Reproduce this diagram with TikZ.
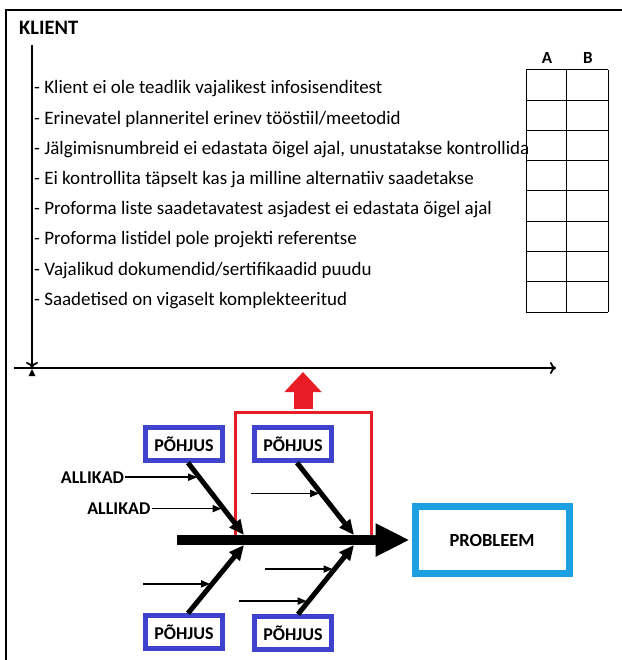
\documentclass[tikz,border=0pt]{standalone}
\usepackage{fontspec}
\setmainfont{Carlito}
\usepackage{tikz}
\usetikzlibrary{arrows.meta, positioning}
\definecolor{fbCause}{RGB}{62,66,204}
\definecolor{fbProblem}{RGB}{28,160,226}
\definecolor{fbFocus}{RGB}{232,28,36}

\begin{document}
\begin{tikzpicture}[x=1pt, y=-1pt,
    pohjus/.style={draw=fbCause, line width=4.5pt, minimum width=77pt, minimum height=33pt,
      font=\bfseries\fontsize{18}{19}\selectfont, inner sep=0pt},
    probbox/.style={draw=fbProblem, line width=7pt, minimum width=154pt, minimum height=67pt,
      font=\bfseries\fontsize{18.5}{20}\selectfont},
    bone/.style={line width=5pt, -{Triangle[length=15pt,width=13pt]}},
    twig/.style={line width=1.6pt, -{Triangle[length=9pt,width=7pt]}},
    axis/.style={line width=1.8pt, -{To[length=6pt,width=12pt]}},
    srclabel/.style={font=\bfseries\fontsize{18}{19}\selectfont, anchor=east, inner sep=1pt},
    listitem/.style={font=\fontsize{19}{21}\selectfont, anchor=west, inner sep=0pt}
  ]
    \useasboundingbox (0,0) rectangle (621,660);
    \draw[line width=1.4pt] (6,670) |- (630,10);
    \node[font=\bfseries\fontsize{20.5}{22}\selectfont, anchor=west, inner sep=0pt] (klient) at (19,28) {KLIENT};

    % axes
    \coordinate (ytop) at (32,45);
    \coordinate (orig) at (32,368);
    \coordinate (xstart) at (14,368);
    \coordinate (xend) at (556,368);
    \draw[axis] (ytop) -- (orig);
    \draw[axis] (xstart) -- (xend);
    \fill (28.5,376) -- (32,369) -- (35.5,376) -- cycle;

    % list and A/B table
    \foreach \t [count=\i from 0] in {Klient ei ole teadlik vajalikest infosisenditest,
        Erinevatel planneritel erinev tööstiil/meetodid,
        {Jälgimisnumbreid ei edastata õigel ajal, unustatakse kontrollida},
        Ei kontrollita täpselt kas ja milline alternatiiv saadetakse,
        Proforma liste saadetavatest asjadest ei edastata õigel ajal,
        Proforma listidel pole projekti referentse,
        Vajalikud dokumendid/sertifikaadid puudu,
        Saadetised on vigaselt komplekteeritud}
      \node[listitem] (item\i) at (34,{89+30.2*\i}) {- \t};
    \foreach \r in {0,...,8}
      \draw[line width=1pt] (526,{70+30.25*\r}) -- (608,{70+30.25*\r});
    \foreach \c in {526,566,608}
      \draw[line width=1pt] (\c,70) -- (\c,312);
    \node[font=\bfseries\fontsize{17}{18}\selectfont] (colA) at (547,58) {A};
    \node[font=\bfseries\fontsize{17}{18}\selectfont] (colB) at (588,58) {B};

    % focus frame
    \node[draw=fbFocus, line width=3pt, minimum width=136pt, minimum height=130pt] (focus) at (303,477) {};
    \coordinate (redtip) at (303,372);
    \draw[draw=fbFocus, line width=19pt, -{Triangle[length=20pt,width=36pt]}]
      ([yshift=2pt]focus.north) -- (redtip);

    % fishbone
    \node[pohjus] (c1) at (184,444) {PÕHJUS};
    \node[pohjus] (c2) at (293,444) {PÕHJUS};
    \node[pohjus] (c3) at (184,632) {PÕHJUS};
    \node[pohjus] (c4) at (293,633) {PÕHJUS};
    \node[probbox] (prob) at (492,540) {PROBLEEM};
    \coordinate (tail) at (177,540);
    \coordinate (j1) at (244,540);
    \coordinate (j2) at (354,540);
    \draw[line width=10pt, -{Triangle[length=34pt,width=31pt]}] (tail) -- ([xshift=-2pt]prob.west);

    \draw[bone] ([xshift=4pt]c1.south) -- coordinate[pos=0.2] (k1) coordinate[pos=0.635] (k2) ([yshift=5pt]j1);
    \draw[bone] ([xshift=4pt]c2.south) -- coordinate[pos=0.425] (k3) ([yshift=5pt]j2);
    \draw[bone] ([xshift=4pt]c3.north) -- coordinate[pos=0.43] (k4) ([yshift=-5pt]j1);
    \draw[bone] ([xshift=5pt]c4.north) -- coordinate[pos=0.19] (k5) coordinate[pos=0.653] (k6) ([yshift=-5pt]j2);

    \node[srclabel] (src1) at ([xshift=-74pt]k1) {ALLIKAD};
    \node[srclabel] (src2) at ([xshift=-72pt]k2) {ALLIKAD};
    \coordinate (w3) at ([xshift=-70pt]k3);
    \coordinate (w4) at ([xshift=-69pt]k4);
    \coordinate (w5) at ([xshift=-70pt]k5);
    \coordinate (w6) at ([xshift=-70pt]k6);
    \draw[twig] (src1.east) -- ([xshift=-2pt]k1);
    \draw[twig] (src2.east) -- ([xshift=-2pt]k2);
    \draw[twig] (w3) -- ([xshift=-2pt]k3);
    \draw[twig] (w4) -- ([xshift=-2pt]k4);
    \draw[twig] (w5) -- ([xshift=-2pt]k5);
    \draw[twig] (w6) -- ([xshift=-2pt]k6);
\end{tikzpicture}
\end{document}
